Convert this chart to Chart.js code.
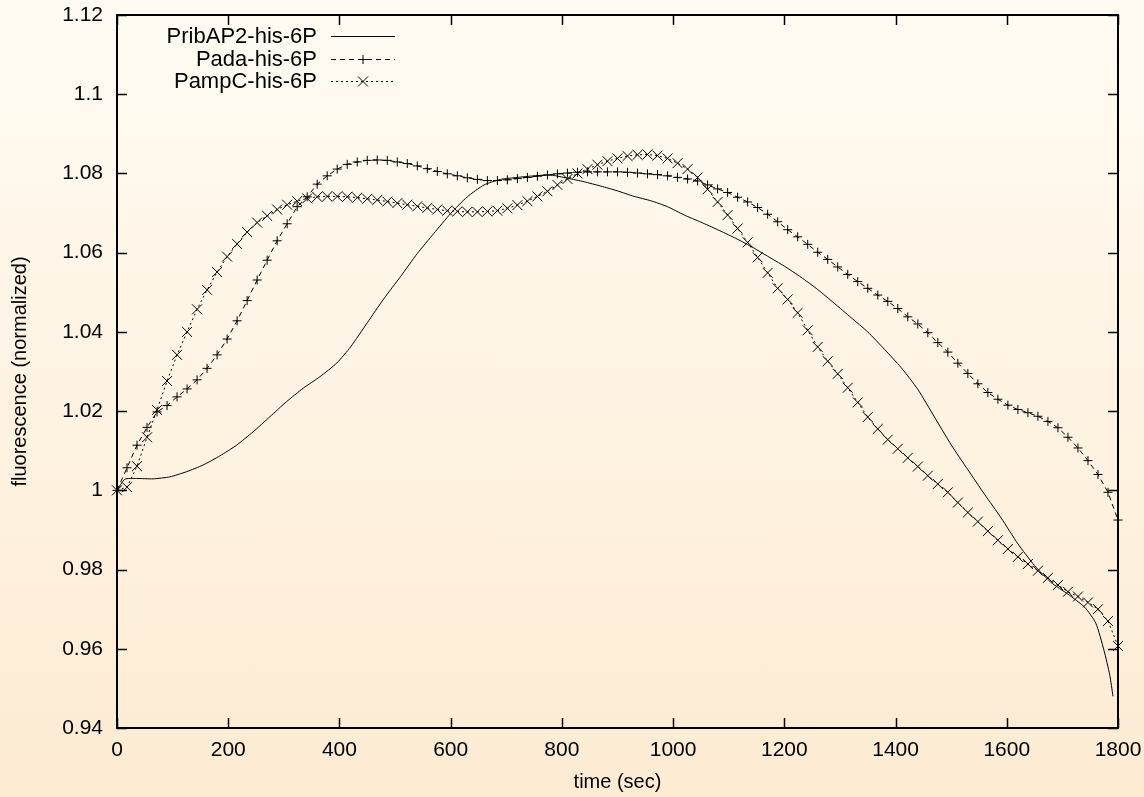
<!DOCTYPE html>
<html>
<head>
<meta charset="utf-8">
<script src="https://cdn.jsdelivr.net/npm/chart.js@4/dist/chart.umd.min.js"></script>
<style>
  html, body { margin: 0; padding: 0; }
  body { width: 1144px; height: 797px; overflow: hidden; background: linear-gradient(to bottom, #fffbf3, #fdebd2); }
  #wrap { position: relative; width: 1144px; height: 797px; }
</style>
</head>
<body>
<div id="wrap"><canvas id="chart"></canvas></div>
<script>
// sample times (sec) for the two marker series
const timeSec = [
  0, 18, 36, 54, 72, 90, 108, 126, 144, 162,
  180, 198, 216, 234, 252, 270, 288, 306, 324, 342,
  360, 378, 396, 414, 432, 450, 468, 486, 504, 522,
  540, 558, 576, 594, 612, 630, 648, 666, 684, 702,
  720, 738, 756, 774, 792, 810, 828, 846, 864, 882,
  900, 918, 936, 954, 972, 990, 1008, 1026, 1044, 1062,
  1080, 1098, 1116, 1134, 1152, 1170, 1188, 1206, 1224, 1242,
  1260, 1278, 1296, 1314, 1332, 1350, 1368, 1386, 1404, 1422,
  1440, 1458, 1476, 1494, 1512, 1530, 1548, 1566, 1584, 1602,
  1620, 1638, 1656, 1674, 1692, 1710, 1728, 1746, 1764, 1782,
  1800
]

const pada = [
  1.0000, 1.0057, 1.0114, 1.0159, 1.0198, 1.0214, 1.0236, 1.0256, 1.0279, 1.0308,
  1.0342, 1.0382, 1.0428, 1.0479, 1.0531, 1.0581, 1.0630, 1.0673, 1.0716, 1.0741,
  1.0773, 1.0794, 1.0811, 1.0823, 1.0829, 1.0833, 1.0834, 1.0833, 1.0829, 1.0825,
  1.0819, 1.0812, 1.0805, 1.0799, 1.0794, 1.0789, 1.0785, 1.0782, 1.0782, 1.0784,
  1.0787, 1.0790, 1.0793, 1.0796, 1.0799, 1.0801, 1.0803, 1.0804, 1.0804, 1.0804,
  1.0804, 1.0803, 1.0801, 1.0799, 1.0797, 1.0794, 1.0790, 1.0786, 1.0781, 1.0771,
  1.0761, 1.0752, 1.0740, 1.0728, 1.0714, 1.0697, 1.0678, 1.0658, 1.0640, 1.0621,
  1.0601, 1.0583, 1.0564, 1.0545, 1.0527, 1.0510, 1.0493, 1.0477, 1.0459, 1.0438,
  1.0420, 1.0398, 1.0373, 1.0349, 1.0321, 1.0295, 1.0269, 1.0247, 1.0230, 1.0215,
  1.0204, 1.0196, 1.0187, 1.0174, 1.0158, 1.0134, 1.0107, 1.0075, 1.0040, 0.9995,
  0.9925
]

const pampC = [
  1.0000, 1.0008, 1.0061, 1.0134, 1.0203, 1.0276, 1.0342, 1.0400, 1.0457, 1.0506,
  1.0551, 1.0590, 1.0622, 1.0652, 1.0676, 1.0693, 1.0709, 1.0721, 1.0730, 1.0737,
  1.0741, 1.0742, 1.0742, 1.0741, 1.0739, 1.0736, 1.0733, 1.0729, 1.0725, 1.0721,
  1.0717, 1.0713, 1.0709, 1.0706, 1.0704, 1.0703, 1.0703, 1.0704, 1.0706, 1.0712,
  1.0720, 1.0730, 1.0742, 1.0755, 1.0771, 1.0786, 1.0800, 1.0811, 1.0822, 1.0831,
  1.0838, 1.0844, 1.0847, 1.0848, 1.0845, 1.0838, 1.0826, 1.0811, 1.0790, 1.0760,
  1.0728, 1.0695, 1.0661, 1.0626, 1.0588, 1.0549, 1.0510, 1.0482, 1.0448, 1.0404,
  1.0362, 1.0326, 1.0294, 1.0259, 1.0222, 1.0185, 1.0155, 1.0128, 1.0105, 1.0082,
  1.0060, 1.0037, 1.0016, 0.9995, 0.9969, 0.9944, 0.9921, 0.9897, 0.9874, 0.9852,
  0.9832, 0.9814, 0.9797, 0.9779, 0.9761, 0.9744, 0.9732, 0.9717, 0.9700, 0.9670,
  0.9607
]

// the solid curve has no markers, read at its own times
const ribTime = [
  0, 14, 35, 65, 95, 125, 155, 185, 215, 245,
  275, 305, 335, 365, 395, 420, 450, 480, 510, 540,
  570, 600, 630, 660, 690, 720, 750, 780, 810, 840,
  870, 900, 930, 960, 990, 1020, 1050, 1080, 1110, 1140,
  1170, 1200, 1230, 1260, 1290, 1320, 1350, 1380, 1410, 1440,
  1470, 1500, 1530, 1560, 1590, 1620, 1650, 1680, 1710, 1740,
  1760, 1775, 1785, 1791
]
const ribAP2 = [
  1.0000, 1.0028, 1.0030, 1.0029, 1.0034, 1.0047, 1.0064, 1.0087, 1.0114, 1.0148,
  1.0186, 1.0224, 1.0258, 1.0287, 1.0321, 1.0362, 1.0423, 1.0484, 1.0540, 1.0598,
  1.0649, 1.0699, 1.0741, 1.0771, 1.0785, 1.0790, 1.0794, 1.0796, 1.0788, 1.0779,
  1.0768, 1.0756, 1.0742, 1.0731, 1.0716, 1.0695, 1.0677, 1.0658, 1.0638, 1.0616,
  1.0591, 1.0566, 1.0538, 1.0507, 1.0472, 1.0436, 1.0400, 1.0356, 1.0310, 1.0255,
  1.0185, 1.0115, 1.0052, 0.9990, 0.9930, 0.9865, 0.9810, 0.9767, 0.9738, 0.9705,
  0.9665, 0.9595, 0.9535, 0.9480
]

const xTickStep = 200
const yTickStep = 0.02

const FONT = 'Liberation Sans'

const pairs = (xs, ys) => xs.map((x, i) => ({ x: x, y: ys[i] }))

// gnuplot style frame: border plus inward ticks on all four sides
const framePlugin = {
  id: 'frame',
  afterDatasetsDraw(chart) {
    const { ctx, chartArea: a, scales } = chart
    ctx.save()
    ctx.strokeStyle = '#000'
    ctx.lineWidth = 1.5
    ctx.beginPath()
    scales.x.ticks.forEach(t => {
      const px = Math.round(scales.x.getPixelForValue(t.value)) + 0.5
      ctx.moveTo(px, a.bottom); ctx.lineTo(px, a.bottom - 10)
      ctx.moveTo(px, a.top); ctx.lineTo(px, a.top + 10)
    })
    scales.y.ticks.forEach(t => {
      const py = Math.round(scales.y.getPixelForValue(t.value)) + 0.5
      ctx.moveTo(a.left, py); ctx.lineTo(a.left + 10, py)
      ctx.moveTo(a.right, py); ctx.lineTo(a.right - 10, py)
    })
    ctx.stroke()
    ctx.lineWidth = 2
    ctx.strokeRect(a.left, a.top, a.right - a.left, a.bottom - a.top)
    ctx.restore()
  }
}

// key in the top left corner, text right aligned before the sample
const keyPlugin = {
  id: 'key',
  afterDraw(chart) {
    const ctx = chart.ctx
    ctx.save()
    ctx.font = '22px "' + FONT + '"'
    ctx.fillStyle = '#000'
    ctx.textAlign = 'right'
    ctx.textBaseline = 'middle'
    chart.data.datasets.forEach((ds, i) => {
      const y = 36 + i * 22.7
      ctx.fillText(ds.label, 317, y + 1)
      ctx.save()
      ctx.strokeStyle = '#000'
      ctx.lineWidth = 1
      ctx.setLineDash(ds.borderDash || [])
      ctx.beginPath()
      ctx.moveTo(331, Math.round(y) + 0.5)
      ctx.lineTo(395, Math.round(y) + 0.5)
      ctx.stroke()
      ctx.restore()
      if (ds.pointRadius > 0) {
        ctx.strokeStyle = '#000'
        ctx.lineWidth = 1
        Chart.helpers.drawPoint(ctx, { pointStyle: ds.pointStyle, radius: ds.pointRadius, rotation: 0, borderWidth: 1 }, 363, Math.round(y) + 0.5)
      }
    })
    ctx.restore()
  }
}

const noOverhang = scale => {
  scale.paddingTop = 0
  scale.paddingBottom = 0
  scale.paddingLeft = 0
  scale.paddingRight = 0
}

new Chart(document.getElementById('chart'), {
  type: 'line',
  data: {
    datasets: [
      {
        label: 'PribAP2-his-6P',
        data: pairs(ribTime, ribAP2),
        borderColor: '#000',
        borderWidth: 1,
        pointRadius: 0,
        tension: 0.2,
        clip: false
      },
      {
        label: 'Pada-his-6P',
        data: pairs(timeSec, pada),
        borderColor: '#000',
        borderWidth: 1,
        borderDash: [5, 4],
        pointStyle: 'cross',
        pointRadius: 4.5,
        pointBorderWidth: 1,
        pointBorderColor: '#000',
        tension: 0,
        clip: false
      },
      {
        label: 'PampC-his-6P',
        data: pairs(timeSec, pampC),
        borderColor: '#000',
        borderWidth: 1,
        borderDash: [2, 3],
        pointStyle: 'crossRot',
        pointRadius: 7,
        pointBorderWidth: 1,
        pointBorderColor: '#000',
        tension: 0,
        clip: false
      }
    ]
  },
  options: {
    responsive: true,
    maintainAspectRatio: false,
    animation: false,
    layout: { padding: { top: 15, right: 26, left: 0, bottom: 0 } },
    plugins: {
      legend: { display: false },
      tooltip: { enabled: false }
    },
    scales: {
      x: {
        type: 'linear',
        min: 0,
        max: 1800,
        grid: { display: false, drawTicks: false },
        border: { display: false },
        ticks: {
          stepSize: xTickStep,
          color: '#000',
          padding: 10,
          maxRotation: 0,
          font: { family: FONT, size: 21 },
          callback: v => String(v)
        },
        title: {
          display: true,
          text: 'time (sec)',
          color: '#000',
          font: { family: FONT, size: 20 },
          padding: { top: 0, bottom: 3 }
        },
        afterFit(scale) { scale.height = 69; noOverhang(scale) }
      },
      y: {
        min: 0.94,
        max: 1.12,
        grid: { display: false, drawTicks: false },
        border: { display: false },
        ticks: {
          stepSize: yTickStep,
          color: '#000',
          padding: 14,
          font: { family: FONT, size: 21 },
          callback: v => String(+(+v).toFixed(2))
        },
        title: {
          display: true,
          text: 'fluorescence (normalized)',
          color: '#000',
          font: { family: FONT, size: 20 },
          padding: { top: 8, bottom: 0 }
        },
        afterFit(scale) { scale.width = 117; noOverhang(scale) }
      }
    }
  },
  plugins: [framePlugin, keyPlugin]
})
</script>
</body>
</html>
